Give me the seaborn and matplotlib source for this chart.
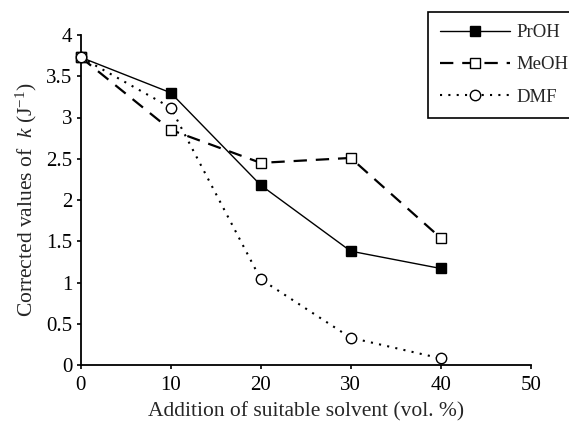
import matplotlib
matplotlib.use('Agg')
import matplotlib.pyplot as plt
import seaborn as sns
import pandas as pd

# Data
solvent_pct = [0, 10, 20, 30, 40]
proh = [3.73, 3.30, 2.18, 1.38, 1.17]
meoh = [3.73, 2.85, 2.45, 2.51, 1.54]
dmf = [3.73, 3.12, 1.04, 0.33, 0.08]
series_names = ['PrOH', 'MeOH', 'DMF']

df = pd.DataFrame({
    'x': solvent_pct * 3,
    'k': proh + meoh + dmf,
    'Solvent': [n for n in series_names for _ in solvent_pct],
})

sns.set_style('ticks')
plt.rcParams['font.family'] = ['Liberation Serif', 'DejaVu Serif']
plt.rcParams['mathtext.fontset'] = 'custom'
plt.rcParams['mathtext.rm'] = 'Liberation Serif'
plt.rcParams['mathtext.it'] = 'Liberation Serif:italic'

fig = plt.figure(figsize=(5.69, 4.24), dpi=100)
ax = fig.add_axes([80.7 / 569, 1 - 365 / 424, 450 / 569, 330 / 424])

styles = {
    'PrOH': dict(lw=1.0, marker='s', mfc='black', dashes=None),
    'MeOH': dict(lw=1.6, marker='s', mfc='white', dashes=(6, 4)),
    'DMF': dict(lw=1.5, marker='o', mfc='white', dashes=(1, 3)),
}

for name in series_names:
    st = styles[name]
    sub = df[df['Solvent'] == name]
    sns.lineplot(data=sub, x='x', y='k', ax=ax, color='black',
                 marker=st['marker'], markersize=7.5,
                 markerfacecolor=st['mfc'], markeredgecolor='black',
                 markeredgewidth=1.0, linewidth=st['lw'], label=name)
    l = ax.lines[-1]
    if st['dashes'] is not None:
        l.set_dashes(st['dashes'])
    l.set_zorder(3)
    l.set_clip_on(False)

ax.set_xlim(0, 50)
ax.set_ylim(0, 4)
ax.set_xticks([0, 10, 20, 30, 40, 50])
ax.set_yticks([0, 0.5, 1, 1.5, 2, 2.5, 3, 3.5, 4])
ax.set_yticklabels(['0', '0.5', '1', '1.5', '2', '2.5', '3', '3.5', '4'])
ax.tick_params(direction='out', length=3, width=1.2, labelsize=15, colors='black', pad=3)
ax.tick_params(axis='x', pad=5)
for s in ['left', 'bottom']:
    ax.spines[s].set_linewidth(1.3)
    ax.spines[s].set_color('black')
sns.despine(ax=ax)

ax.set_xlabel('Addition of suitable solvent (vol. %)', fontsize=15.5, labelpad=5)
ax.set_ylabel(r'Corrected values of  $\mathit{k}$ (J$^{-1}$)', fontsize=15.5, labelpad=5)

leg = ax.legend(loc='upper left', bbox_to_anchor=(428 / 569, 1 - 12 / 424),
                bbox_transform=fig.transFigure, borderaxespad=0, frameon=True,
                fancybox=False, edgecolor='black', fontsize=13.5, handlelength=3.7,
                labelspacing=0.8, borderpad=0.65, handletextpad=0.35)
leg.get_frame().set_linewidth(1.2)
leg.get_frame().set_alpha(1)

fig.savefig('out.png', dpi=100)
